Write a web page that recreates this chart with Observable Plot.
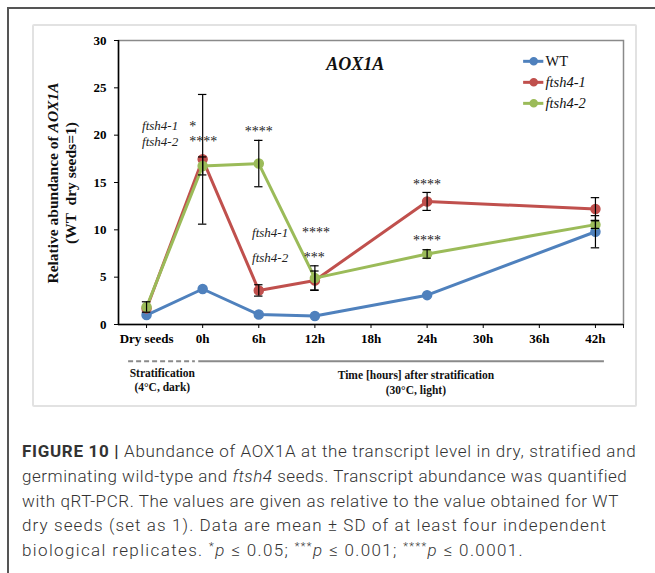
<!DOCTYPE html>
<html><head><meta charset="utf-8">
<script src="https://cdn.jsdelivr.net/npm/d3@7"></script>
<script src="https://cdn.jsdelivr.net/npm/@observablehq/plot@0.6"></script>
<style>
html,body{margin:0;padding:0;background:#fff;}
#page{position:relative;width:655px;height:573px;overflow:hidden;background:#fff;}
#outer{position:absolute;left:7px;top:7px;width:700px;height:600px;border-left:2px solid #555;border-top:2px solid #555;}
#inner{position:absolute;left:32px;top:24px;width:601px;height:379px;border:2px solid #e2e2e2;border-radius:2px;}
#chart{position:absolute;left:0;top:0;}
#caption{position:absolute;left:22px;top:439px;font-family:Roboto,'Liberation Sans',sans-serif;font-weight:300;font-size:17px;line-height:24.8px;color:#333;white-space:nowrap;}
#caption b{font-weight:700;}
#caption sup{font-size:0.65em;line-height:0;vertical-align:0.5em;}
#caption > div{height:24.8px;}
#caption span.line{display:inline-block;}
</style></head><body><div id="page"><div id="outer"></div><div id="inner"></div><div id="chart"></div>
<div id="caption">
<div><span class="line"><b>FIGURE 10 |</b> Abundance of AOX1A at the transcript level in dry, stratified and</span></div>
<div><span class="line">germinating wild-type and <i>ftsh4</i> seeds. Transcript abundance was quantified</span></div>
<div><span class="line">with qRT-PCR. The values are given as relative to the value obtained for WT</span></div>
<div><span class="line">dry seeds (set as 1). Data are mean ± SD of at least four independent</span></div>
<div><span class="line">biological replicates. <sup>*</sup><i>p</i> ≤ 0.05; <sup>***</sup><i>p</i> ≤ 0.001; <sup>****</sup><i>p</i> ≤ 0.0001.</span></div>
</div>
</div>
<script>
const categories = ["Dry seeds","0h","6h","12h","18h","24h","30h","36h","42h"];
const sampled = ["Dry seeds","0h","6h","12h","24h","42h"];
const seriesNames = ["WT","ftsh4-1","ftsh4-2"];
const seriesColors = ["#4F81BD","#C0504D","#9BBB59"];
const wtMean = [1.0, 3.75, 1.05, 0.9, 3.1, 9.8];
const wtSD = [0, 0, 0, 0, 0, 1.7];
const f1Mean = [1.7, 17.45, 3.6, 4.65, 13.0, 12.2];
const f1SD = [0, 6.85, 0.6, 1.0, 0.95, 1.2];
const f2Mean = [1.85, 16.75, 17.0, 4.9, 7.45, 10.55];
const f2SD = [0.55, 0.95, 2.45, 1.3, 0.45, 0.4];
const yTicks = [0, 5, 10, 15, 20, 25, 30];
const annoLabels = [
  {x: -0.08, y: 20.95, text: "ftsh4-1"},
  {x: -0.08, y: 19.33, text: "ftsh4-2"},
  {x: 1.88, y: 9.7, text: "ftsh4-1"},
  {x: 1.88, y: 7.05, text: "ftsh4-2"}
];
const starsAfterLabel = [
  {x: 0.76, y: 20.95, text: "*"},
  {x: 0.76, y: 19.33, text: "****"},
  {x: 2.77, y: 9.7, text: "****"},
  {x: 2.8, y: 7.05, text: "***"}
];
const starsOverPoint = [
  {x: 2.0, y: 20.4, text: "****"},
  {x: 5.0, y: 14.82, text: "****"},
  {x: 5.0, y: 8.9, text: "****"}
];
const phaseLines = [
  {x1: -0.32, x2: 0.87, y: -3.88, dash: "5,3"},
  {x1: 0.93, x2: 8.16, y: -3.88, dash: null}
];
const phaseText = [
  {x: 0.28, y: -5.18, text: "Stratification"},
  {x: 0.28, y: -6.65, text: "(4°C, dark)"},
  {x: 4.8, y: -5.38, text: "Time [hours] after stratification"},
  {x: 4.8, y: -6.95, text: "(30°C, light)"}
];
const captionWidths = [614, 605, 597, 585, 502];

const means = [wtMean, f1Mean, f2Mean];
const sds = [wtSD, f1SD, f2SD];
const rows = [];
seriesNames.forEach((s, k) => sampled.forEach((c, i) => rows.push({series: s, k, x: categories.indexOf(c), y: means[k][i], sd: sds[k][i]})));
const errRows = rows.filter(d => d.sd > 0);
const caps = errRows.flatMap(d => [d.y - d.sd, d.y + d.sd].map(v => ({x: d.x, v})));

const serif = "'Liberation Serif','Times New Roman',serif";
const seriesMarks = seriesNames.flatMap((s, k) => {
  const d = rows.filter(r => r.series === s);
  return [
    Plot.line(d, {x: "x", y: "y", stroke: seriesColors[k], strokeWidth: 3}),
    Plot.dot(d, {x: "x", y: "y", r: 4.5, fill: seriesColors[k], stroke: seriesColors[k]})
  ];
});
const legendY = i => 27.8 - i * 2.22;
const legendMarks = seriesNames.flatMap((s, k) => [
  Plot.ruleY([legendY(k)], {x1: 6.72, x2: 7.08, stroke: seriesColors[k], strokeWidth: 3}),
  Plot.dot([legendY(k)], {x: 6.9, y: d => d, r: 3.5, fill: seriesColors[k], stroke: seriesColors[k]}),
  Plot.text([s], {x: 7.11, y: legendY(k), text: d => d, textAnchor: "start", fontSize: 14.5, fontStyle: k ? "italic" : "normal", fill: "#111"})
]);

const chart = Plot.plot({
  width: 655, height: 420,
  marginLeft: 118, marginRight: 32, marginTop: 40, marginBottom: 96,
  x: {domain: [-0.5, 8.5], axis: null},
  y: {domain: [0, 30], axis: null},
  style: {fontFamily: serif, background: "transparent", color: "#000", overflow: "visible"},
  marks: [
    Plot.frame({stroke: "#8a8a8a", strokeWidth: 1.5}),
    Plot.axisY({ticks: yTicks, tickSize: 4, tickPadding: 8, label: null, fontSize: 13, fontWeight: "bold", stroke: "#000"}),
    Plot.axisX({ticks: d3.range(9).concat([8.5]), tickFormat: i => categories[i] ?? "", tickSize: 4, tickPadding: 5, label: null, fontSize: 13, fontWeight: "bold", stroke: "#000"}),
    Plot.ruleX([-0.5], {stroke: "#000", strokeWidth: 1.5}),
    Plot.ruleY([0], {stroke: "#000", strokeWidth: 1.5}),
    ...seriesMarks,
    Plot.ruleX(errRows, {x: "x", y1: d => d.y - d.sd, y2: d => d.y + d.sd, stroke: "#000", strokeWidth: 1.2}),
    Plot.ruleY(caps, {y: "v", x1: d => d.x - 0.075, x2: d => d.x + 0.075, stroke: "#000", strokeWidth: 1.2}),
    Plot.text(["AOX1A"], {x: 3.72, y: 27.46, text: d => d, fontSize: 18, fontWeight: "bold", fontStyle: "italic", fill: "#111"}),
    ...legendMarks,
    Plot.text(annoLabels, {x: "x", y: "y", text: "text", textAnchor: "start", fontSize: 13, fontStyle: "italic", fill: "#222"}),
    Plot.text(starsAfterLabel, {x: "x", y: "y", text: "text", textAnchor: "start", fontSize: 14, fill: "#222"}),
    Plot.text(starsOverPoint, {x: "x", y: "y", text: "text", textAnchor: "middle", fontSize: 14, fill: "#222"}),
    ...phaseLines.map(p => Plot.ruleY([p], {x1: "x1", x2: "x2", y: "y", stroke: "#8a8a8a", strokeWidth: 2.2, strokeDasharray: p.dash ?? undefined})),
    Plot.text(phaseText, {x: "x", y: "y", text: "text", fontSize: 11.5, fontWeight: "bold", fill: "#111"})
  ]
});
document.getElementById("chart").appendChild(chart);

// y-axis title with mixed styling
const svg = d3.select(chart);
const t = svg.append("text")
  .attr("transform", "translate(53,183) rotate(-90)")
  .attr("text-anchor", "middle")
  .attr("font-family", serif).attr("font-weight", "bold").attr("font-size", 15.5).attr("fill", "#111");
t.append("tspan").attr("x", 0).attr("dy", "0.35em").text("Relative abundance of ");
t.append("tspan").attr("font-style", "italic").text("AOX1A");
svg.append("text")
  .attr("transform", "translate(71,183) rotate(-90)")
  .attr("text-anchor", "middle")
  .attr("font-family", serif).attr("font-weight", "bold").attr("font-size", 15.5).attr("fill", "#111")
  .attr("dy", "0.35em").attr("xml:space", "preserve").text("(WT  dry seeds=1)");

// stretch caption lines to the reference widths via letter-spacing
function fitCaption() {
  document.querySelectorAll("#caption span.line").forEach((el, i) => {
    el.style.letterSpacing = "0px";
    const w = el.getBoundingClientRect().width;
    const n = el.textContent.length;
    el.style.letterSpacing = ((captionWidths[i] - w) / n) + "px";
  });
}
fitCaption();
if (document.fonts && document.fonts.ready) document.fonts.ready.then(fitCaption);
</script>
</body></html>
